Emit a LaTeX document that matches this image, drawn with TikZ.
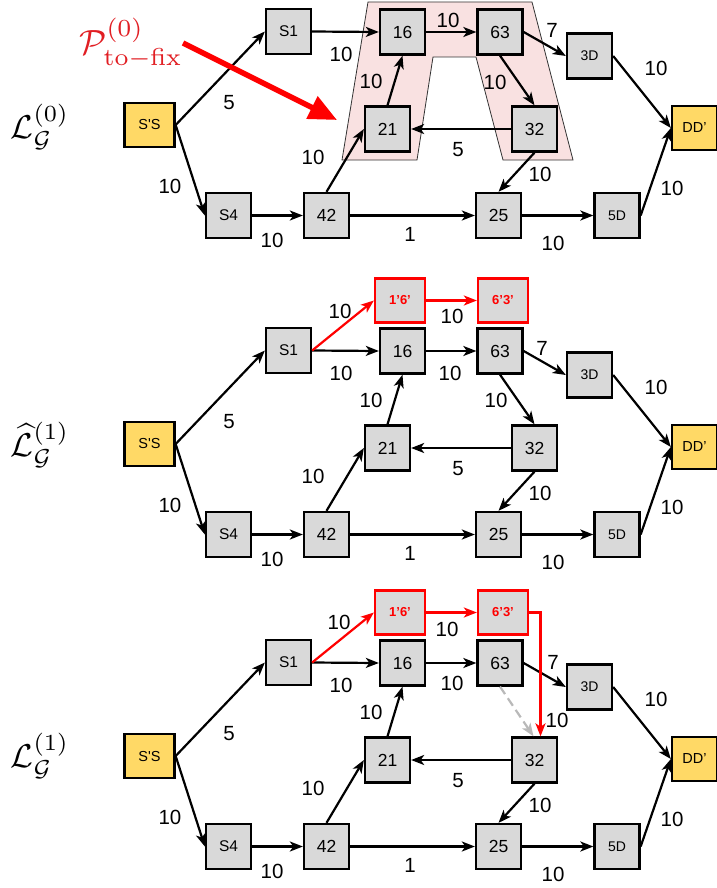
\documentclass[tikz,border=0pt]{standalone}
\usepackage{amsmath}
\usepackage[no-math]{fontspec}
\setmainfont{Liberation Sans}
\usetikzlibrary{arrows.meta}
\definecolor{boxgray}{RGB}{217,217,217}
\definecolor{boxyellow}{RGB}{255,217,102}
\definecolor{pinkfill}{RGB}{249,225,225}
\definecolor{myred}{RGB}{255,0,0}
\definecolor{labred}{RGB}{225,30,35}
\definecolor{dashgray}{RGB}{185,185,185}
\tikzset{
  box/.style={draw, line width=2.3pt, fill=boxgray, minimum width=45pt, minimum height=45pt, inner sep=0pt, font=\fontsize{17.5}{17.5}\selectfont},
  sbox/.style={box, font=\fontsize{15.5}{15.5}\selectfont},
  dbox/.style={box, font=\fontsize{14}{14}\selectfont},
  term/.style={box, fill=boxyellow, minimum width=50pt, minimum height=44pt, font=\fontsize{14.5}{14.5}\selectfont},
  redbox/.style={box, draw=myred, minimum width=50pt, minimum height=44pt, text=myred, font=\bfseries\fontsize{13}{13}\selectfont},
  edge/.style={line width=2.2pt, -{Stealth[length=13pt,width=10pt,inset=3.5pt]}},
  redge/.style={edge, draw=myred},
  lbl/.style={font=\fontsize{20.5}{20.5}\selectfont, inner sep=0pt},
  glab/.style={inner sep=0pt, scale=3.3}
}
\newcommand\basegraph[1]{%
  \node[term] (#1ss) at (149.5,125) {S\textquotesingle S};
  \node[sbox] (#1s1) at (288.5,31.5) {S1};
  \node[sbox] (#1s4) at (228.5,215.5) {S4};
  \node[box] (#1n42) at (326.5,215.5) {42};
  \node[box] (#1n16) at (402.5,32) {16};
  \node[box] (#1n63) at (500,32) {63};
  \node[dbox] (#1d3) at (589.5,56) {3D};
  \node[box] (#1n21) at (387.5,129) {21};
  \node[box] (#1n32) at (534.5,129) {32};
  \node[term, minimum width=45pt] (#1dd) at (694.5,128) {DD’};
  \node[box] (#1n25) at (498.5,215.5) {25};
  \node[dbox] (#1d5) at (617,215.5) {5D};
  \draw[edge] (#1ss.east) -- (#1s1.west);
  \draw[edge] (#1ss.east) -- (#1s4.west);
  \draw[edge] (#1s1.east) -- (#1n16.west);
  \draw[edge] (#1s4.east) -- (#1n42.west);
  \draw[edge] (#1n42.north) -- (#1n21.west);
  \draw[edge] (#1n21.north) -- (#1n16.south);
  \draw[edge] (#1n16.east) -- (#1n63.west);
  \draw[edge] (#1n63.east) -- (#1d3.west);
  \draw[edge] (#1n32.west) -- (#1n21.east);
  \draw[edge] (#1n32.south) -- (#1n25.north);
  \draw[edge] (#1n42.east) -- (#1n25.west);
  \draw[edge] (#1n25.east) -- (#1d5.west);
  \draw[edge] (#1d3.east) -- (#1dd.west);
  \draw[edge] (#1d5.east) -- (#1dd.west);
  \node[lbl] (#1la) at (229,103) {5};
  \node[lbl] (#1lb) at (170,186) {10};
  \node[lbl] (#1lc) at (341,54) {10};
  \node[lbl] (#1ld) at (371,81) {10};
  \node[lbl] (#1le) at (313,157) {10};
  \node[lbl] (#1lf) at (272,240) {10};
  \node[lbl] (#1lg) at (410,234) {1};
  \node[lbl] (#1lh) at (553,243) {10};
  \node[lbl] (#1li) at (540,174) {10};
  \node[lbl] (#1lj) at (458,150) {5};
  \node[lbl] (#1lk) at (672,188) {10};
  \node[lbl] (#1ll) at (656,68) {10};
}
\newcommand\redpair[1]{%
  \node[redbox] (#1r16) at (400,-18.5) {1’6’};
  \node[redbox] (#1r63) at (503,-18.5) {6’3’};
  \draw[redge] (#1s1.east) -- (#1r16.west);
  \draw[redge] (#1r16.east) -- (#1r63.west);
}
\begin{document}
\begin{tikzpicture}[x=1pt,y=-1pt]
\useasboundingbox (0,0) rectangle (716,888);
% ---------- panel 1 ----------
\path[fill=pinkfill, draw=black!80, line width=0.8pt]
  (368,2) -- (532,2) -- (573,160) -- (503,160) -- (476,57) -- (433,57) -- (417,160) -- (342,160) -- cycle;
\basegraph{a}
\draw[edge] (an63.south) -- (an32.north);
\node[lbl] (a7) at (552,30) {7};
\node[lbl] (am) at (495,82) {10};
\node[lbl] (an) at (448,20) {10};
\node[glab] (galab) at (40,127) {$\mathcal{L}_{\mathcal{G}}^{(0)}$};
\node[inner sep=0pt, text=labred, scale=3.5] (plab) at (131,43) {$\mathcal{P}^{(0)}_{\mathrm{to{-}fix}}$};
\coordinate (pa) at (183,43);
\coordinate (pb) at (337,120);
\draw[myred, line width=5.5pt, -{Triangle[length=28pt,width=24pt]}] (pa) -- (pb);
% ---------- panel 2 ----------
\begin{scope}[shift={(0,319)}]
\basegraph{b}
\redpair{b}
\draw[edge] (bn63.south) -- (bn32.north);
\node[lbl] (b7) at (542,29) {7};
\node[lbl] (bm) at (496,81) {10};
\node[lbl] (bn) at (450,54) {10};
\node[lbl] (bo) at (340,-8) {10};
\node[lbl] (bp) at (452,-3) {10};
\node[glab] (gblab) at (40,126) {$\widehat{\mathcal{L}}_{\mathcal{G}}^{(1)}$};
\end{scope}
% ---------- panel 3 ----------
\begin{scope}[shift={(0,631)}]
\basegraph{c}
\redpair{c}
\draw[edge, dashgray, dashed, dash pattern=on 9pt off 5pt] (cn63.south) -- ([xshift=-1pt]cn32.north);
\draw[redge] (cr63.east) -| ([xshift=6pt]cn32.north);
\node[lbl] (c7) at (553,31) {7};
\node[lbl] (cn) at (452,52) {10};
\node[lbl] (co) at (339,-9) {10};
\node[lbl] (cp) at (447,-2) {10};
\node[lbl] (cq) at (557,89) {10};
\node[glab] (gclab) at (40,125) {$\mathcal{L}_{\mathcal{G}}^{(1)}$};
\end{scope}
\end{tikzpicture}
\end{document}
